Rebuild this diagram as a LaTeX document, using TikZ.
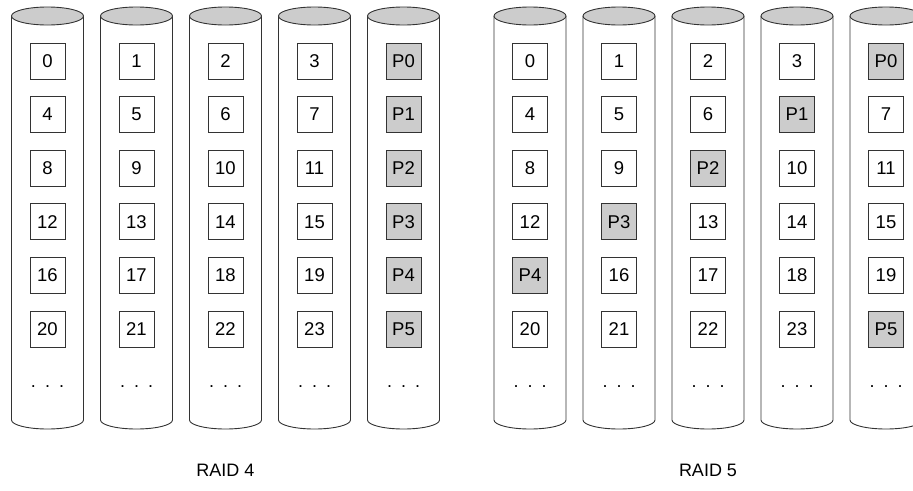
\documentclass[tikz,border=0pt]{standalone}
\usepackage{fontspec}
\setmainfont{Liberation Sans}
\usetikzlibrary{positioning}

\definecolor{paritygray}{gray}{0.80}
\definecolor{lidgray}{gray}{0.80}

\begin{document}
\begin{tikzpicture}[
    x=1pt, y=-1pt,
    % Disk body and top
    disk/.style={
        draw=black!80, line width=0.9pt, fill=white
    },
    disklid/.style={
        draw=black!80, line width=0.9pt, fill=lidgray
    },
    % Data block: white square
    blk/.style={
        rectangle, draw=black!80, line width=0.8pt, fill=white,
        minimum width=35pt, minimum height=36pt, inner sep=0pt,
        font=\fontsize{18.5}{20}\selectfont
    },
    % Parity block: gray square
    pblk/.style={
        blk, fill=paritygray
    },
    more/.style={
        font=\fontsize{18}{20}\selectfont, inner sep=0pt
    },
    caption/.style={
        font=\fontsize{18}{20}\selectfont, inner sep=0pt
    }
]

\useasboundingbox (0,0) rectangle (913,490);

% === Disks ===
\foreach \cx in {47.5,136.5,225.5,314.5,403.5,530,619,708,797,886} {
    \draw[disk] (\cx-36,16) -- (\cx-36,420)
        arc[start angle=180, end angle=360, x radius=36pt, y radius=9pt]
        -- (\cx+36,16);
    \draw[disklid] (\cx,16) ellipse[x radius=36pt, y radius=9pt];
}

% ============================================================
% === RAID 4: parity on the last disk
% ============================================================
\foreach \t/\s [count=\r from 0] in {0/blk,4/blk,8/blk,12/blk,16/blk,20/blk}
    \node[\s] (r4d0b\r) at (47.5, 61+53.6*\r) {\t};
\foreach \t/\s [count=\r from 0] in {1/blk,5/blk,9/blk,13/blk,17/blk,21/blk}
    \node[\s] (r4d1b\r) at (136.5, 61+53.6*\r) {\t};
\foreach \t/\s [count=\r from 0] in {2/blk,6/blk,10/blk,14/blk,18/blk,22/blk}
    \node[\s] (r4d2b\r) at (225.5, 61+53.6*\r) {\t};
\foreach \t/\s [count=\r from 0] in {3/blk,7/blk,11/blk,15/blk,19/blk,23/blk}
    \node[\s] (r4d3b\r) at (314.5, 61+53.6*\r) {\t};
\foreach \t/\s [count=\r from 0] in {P0/pblk,P1/pblk,P2/pblk,P3/pblk,P4/pblk,P5/pblk}
    \node[\s] (r4d4b\r) at (403.5, 61+53.6*\r) {\t};

% ============================================================
% === RAID 5: parity rotated over the disks
% ============================================================
\foreach \t/\s [count=\r from 0] in {0/blk,4/blk,8/blk,12/blk,P4/pblk,20/blk}
    \node[\s] (r5d0b\r) at (530, 61+53.6*\r) {\t};
\foreach \t/\s [count=\r from 0] in {1/blk,5/blk,9/blk,P3/pblk,16/blk,21/blk}
    \node[\s] (r5d1b\r) at (619, 61+53.6*\r) {\t};
\foreach \t/\s [count=\r from 0] in {2/blk,6/blk,P2/pblk,13/blk,17/blk,22/blk}
    \node[\s] (r5d2b\r) at (708, 61+53.6*\r) {\t};
\foreach \t/\s [count=\r from 0] in {3/blk,P1/pblk,10/blk,14/blk,18/blk,23/blk}
    \node[\s] (r5d3b\r) at (797, 61+53.6*\r) {\t};
\foreach \t/\s [count=\r from 0] in {P0/pblk,7/blk,11/blk,15/blk,19/blk,P5/pblk}
    \node[\s] (r5d4b\r) at (886, 61+53.6*\r) {\t};

% === Continuation dots ===
\foreach \cx [count=\k] in {47.5,136.5,225.5,314.5,403.5,530,619,708,797,886}
    \node[more] (dots\k) at (\cx,387) {.\enspace.\enspace.};

% === Captions ===
\node[caption] (raid4) at (225.5,470) {RAID 4};
\node[caption] (raid5) at (708,470) {RAID 5};

\end{tikzpicture}
\end{document}
